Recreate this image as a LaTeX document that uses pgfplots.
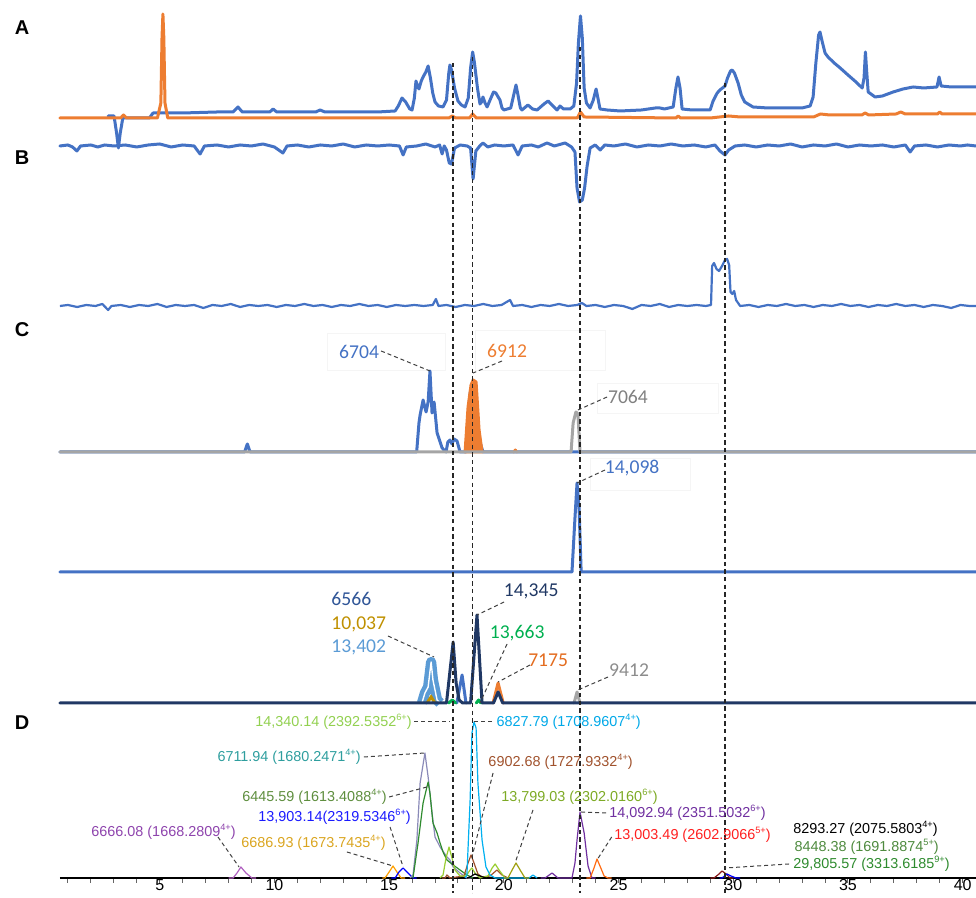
\documentclass[border=0pt]{standalone}
\usepackage{pgfplots}
\pgfplotsset{compat=1.18}
\usepackage{fontspec}
\setmainfont{Liberation Sans}
\newfontfamily\calibri{Carlito}
\definecolor{cblue}{HTML}{4472C4}
\definecolor{corange}{HTML}{ED7D31}
\definecolor{cgray}{HTML}{A5A5A5}
\definecolor{cnavy}{HTML}{203864}
\definecolor{clblue}{HTML}{5B9BD5}
\definecolor{cgold}{HTML}{BF9000}
\definecolor{cgreen}{HTML}{00B050}
\definecolor{cdblue}{HTML}{2F5597}
\definecolor{corange2}{HTML}{E36C1F}
\definecolor{dlav}{HTML}{8A8AB8}
\definecolor{dgreen}{HTML}{2E8B2E}
\definecolor{dlime}{HTML}{9ACD32}
\definecolor{dsky}{HTML}{00B0F0}
\definecolor{dbrown}{HTML}{A0522D}
\definecolor{dolive}{HTML}{A0A010}
\definecolor{dpurple}{HTML}{7030A0}
\definecolor{dorchid}{HTML}{B060C0}
\definecolor{dorange}{HTML}{FFA000}
\definecolor{dred}{HTML}{FF6A10}
\definecolor{ddarkred}{HTML}{8B1A1A}
\definecolor{tlime}{HTML}{92D050}
\definecolor{tsky}{HTML}{00A8E8}
\definecolor{tteal}{HTML}{2E9E9E}
\definecolor{tbrown}{HTML}{A0522D}
\definecolor{tgreen}{HTML}{5E8E3E}
\definecolor{tolive}{HTML}{7DAA25}
\definecolor{tblue}{HTML}{1A1AFF}
\definecolor{tpurple}{HTML}{7030A0}
\definecolor{tpurple2}{HTML}{8E44AD}
\definecolor{tgold}{HTML}{DAA520}
\definecolor{tred}{HTML}{FF2020}
\definecolor{tgreen2}{HTML}{4E8A3E}
\definecolor{tgreen3}{HTML}{2E8B2E}
\newcommand\sups[1]{\raisebox{0.45em}{\fontsize{4.6}{5}\selectfont #1}}
\pgfplotsset{
  tr/.style={line width=1.5pt, line join=round, line cap=round},
  dt/.style={line width=0.6pt, line join=round},
  ld/.style={dash pattern=on 2pt off 1.5pt, line width=0.5pt, black!75},
  vd/.style={dash pattern=on 2.2pt off 1.6pt, line width=0.6pt, black!85},
}
\begin{document}
\begin{tikzpicture}
\begin{axis}[
  scale only axis, width=458pt, height=439pt,
  xmin=0.654, xmax=40.58, ymin=0, ymax=878,
  axis y line=none, axis x line*=bottom,
  axis line style={black, line width=0.6pt},
  xtick={5,10,...,40}, minor xtick={1,...,40},
  tick align=outside, major tick length=2.5pt, minor tick length=2.5pt,
  tick style={black!60, line width=0.5pt},
  xticklabel style={font=\fontsize{8}{9}\selectfont, text=black, yshift=2.8pt, inner sep=1pt},
  /pgf/number format/assume math mode=true,
  clip=false,
]
% ---------------- Panel A ----------------
\addplot[tr, cblue] coordinates {(2.75,762)(3.01,762)(3.12,745)(3.2,730)(3.28,745)(3.40,761)(3.5,760)(4.55,760)(4.71,765)(6.0,765)(7.5,766)(8.2,766)(8.41,771)(8.6,766)(9.8,766)(9.94,769)(10.1,766)(11.8,766)(11.99,768)(12.2,766)(14.5,766)(15.26,767)(15.4,772)(15.56,780)(15.72,776)(15.9,769)(16.0,768)(16.1,780)(16.17,797)(16.24,792)(16.30,789)(16.40,797)(16.48,801)(16.6,806)(16.70,812)(16.8,800)(16.9,785)(17.0,776)(17.15,772)(17.35,771)(17.5,778)(17.6,805)(17.65,813)(17.72,808)(17.85,790)(18.0,777)(18.15,773)(18.31,771)(18.45,780)(18.55,810)(18.64,826)(18.72,815)(18.85,790)(18.96,774)(19.03,776)(19.09,781)(19.18,775)(19.27,771)(19.4,778)(19.55,786)(19.65,785)(19.83,778)(19.92,770)(20.0,768)(20.3,770)(20.45,785)(20.53,793)(20.6,785)(20.72,770)(20.79,768)(21.05,773)(21.25,769)(21.45,768)(21.75,774)(21.93,777)(22.1,773)(22.32,768)(22.45,772)(22.6,769)(22.89,769)(23.05,772)(23.17,795)(23.25,835)(23.34,862)(23.42,840)(23.5,790)(23.6,775)(23.76,770)(23.9,778)(24.02,789)(24.1,780)(24.19,769)(24.5,768)(25.07,767)(26.0,768)(26.6,770)(26.81,770)(27.0,769)(27.38,771)(27.5,790)(27.59,801)(27.68,790)(27.77,769)(28.2,768)(28.99,768)(29.12,777)(29.3,785)(29.42,788)(29.64,792)(29.75,800)(29.88,807)(29.95,808)(30.05,805)(30.21,795)(30.35,783)(30.5,776)(30.86,771)(31.5,770)(32.04,770)(33.0,770)(33.35,772)(33.48,781)(33.6,815)(33.72,843)(33.78,846)(33.88,836)(34.0,825)(34.13,821)(34.4,815)(34.66,810)(35.0,803)(35.3,797)(35.62,790)(35.70,800)(35.76,826)(35.82,805)(35.88,786)(36.18,781)(36.5,782)(36.97,786)(37.4,789)(37.84,791)(38.3,790)(38.88,791)(38.97,801)(39.06,792)(39.5,791)(40.58,791)};
\addplot[tr, corange] coordinates {(0.65,760)(3.3,760)(3.42,763)(3.55,760)(4.9,760)(5.05,775)(5.1,840)(5.14,864)(5.18,840)(5.23,775)(5.35,760)(17.6,760)(17.75,762)(17.9,760)(18.5,760)(18.64,764)(18.8,760)(23.2,760)(23.34,766)(23.5,761)(27.5,760)(27.6,762)(27.7,760)(29.0,760)(29.8,762)(30.3,761)(33.5,761)(33.8,764)(34.2,763)(35.6,763)(35.75,765)(35.9,763)(37.1,764)(37.3,766)(37.5,764)(38.9,764)(39.0,766)(39.1,764)(40.58,764)};
% ---------------- Panel B ----------------
\addplot[tr, cblue] coordinates {(0.65,732)(1.0,733)(1.2,731)(1.39,727)(1.55,732)(2.0,733)(2.3,731)(2.6,733)(3.0,732)(3.5,733)(4.0,731)(4.5,733)(5.0,734)(5.5,731)(6.0,733)(6.5,732)(6.76,724)(6.95,732)(7.5,733)(8.0,731)(8.5,733)(9.0,732)(9.5,734)(10.0,731)(10.37,725)(10.55,732)(11.0,733)(11.5,731)(12.0,733)(12.5,732)(13.0,734)(13.5,731)(14.0,733)(14.5,732)(15.0,733)(15.45,732)(15.61,723)(15.75,731)(16.2,732)(16.6,734)(17.0,731)(17.2,733)(17.31,724)(17.4,732)(17.5,728)(17.62,715)(17.72,714)(17.85,730)(18.1,733)(18.4,732)(18.55,730)(18.66,699)(18.78,727)(18.95,732)(19.09,735)(19.3,731)(19.6,733)(20.0,732)(20.4,733)(20.62,723)(20.8,732)(21.2,733)(21.5,731)(21.88,735)(22.2,732)(22.67,735)(22.95,731)(23.1,726)(23.19,690)(23.3,676)(23.42,678)(23.52,690)(23.63,712)(23.76,730)(23.98,733)(24.2,728)(24.4,733)(24.8,732)(25.3,734)(25.8,731)(26.3,733)(26.8,732)(27.3,734)(27.8,732)(28.3,733)(28.8,731)(29.2,733)(29.42,727)(29.64,723)(29.8,728)(30.08,732)(30.5,733)(31.0,731)(31.5,733)(32.0,732)(32.5,734)(33.0,731)(33.5,733)(34.0,732)(34.5,734)(35.0,731)(35.5,733)(36.0,732)(36.5,733)(37.0,731)(37.5,733)(37.71,726)(37.9,732)(38.4,733)(38.9,731)(39.4,733)(39.9,732)(40.2,733)(40.58,732)};
\addplot[line width=1.1pt, cblue, line join=round] coordinates {(0.65,572)(1.0,573)(1.4,571)(1.8,573)(2.2,572)(2.5,574)(2.75,568)(2.9,572)(3.3,573)(3.7,571)(4.1,573)(4.5,572)(4.9,574)(5.3,571)(5.7,573)(6.1,572)(6.5,573)(6.9,570)(7.3,573)(7.7,572)(8.1,574)(8.5,571)(8.9,573)(9.3,572)(9.7,573)(10.1,571)(10.5,573)(10.9,572)(11.3,574)(11.7,572)(12.1,573)(12.5,571)(12.9,573)(13.3,572)(13.7,574)(14.1,572)(14.5,573)(14.9,571)(15.3,573)(15.7,572)(16.1,573)(16.5,572)(16.9,573)(17.04,579)(17.15,572)(17.5,573)(17.9,571)(18.3,573)(18.7,572)(19.1,574)(19.5,572)(19.9,573)(20.27,578)(20.4,572)(20.8,573)(21.2,571)(21.6,573)(22.0,572)(22.4,574)(22.8,572)(23.2,573)(23.4,575)(23.6,572)(24.0,573)(24.4,571)(24.8,573)(25.2,572)(25.6,569)(26.0,573)(26.4,572)(26.8,574)(27.2,571)(27.6,573)(28.0,572)(28.4,573)(28.8,572)(29.03,573)(29.08,612)(29.16,615)(29.27,609)(29.38,607)(29.51,612)(29.64,618)(29.73,619)(29.82,613)(29.88,586)(29.96,584)(30.04,587)(30.12,578)(30.3,572)(30.7,573)(31.1,571)(31.5,573)(31.9,572)(32.3,574)(32.7,572)(33.1,573)(33.5,571)(33.9,573)(34.3,572)(34.7,574)(35.1,572)(35.5,573)(35.9,571)(36.3,573)(36.7,572)(37.1,574)(37.5,572)(37.9,573)(38.3,571)(38.7,573)(39.1,572)(39.5,570)(39.9,573)(40.3,572)(40.58,572)};
% ---------------- Panel C1 ----------------
\draw[black!4] (axis cs:12.29,508) rectangle (axis cs:17.44,545);
\draw[black!4] (axis cs:18.74,508) rectangle (axis cs:24.41,548);
\draw[black!4] (axis cs:24.06,465) rectangle (axis cs:29.34,495);
\draw[black!4] (axis cs:23.76,388) rectangle (axis cs:28.12,420);
\addplot[tr, cblue] coordinates {(0.65,426)(8.7,426)(8.82,434)(8.94,426)(16.2,426)(16.30,455)(16.35,463)(16.48,478)(16.61,466)(16.70,476)(16.78,507)(16.87,465)(16.96,476)(17.09,445)(17.31,430)(17.48,426)(17.56,436)(17.65,438)(17.74,434)(17.83,439)(17.96,437)(18.09,426)(18.35,426)(18.44,462)(18.53,485)(18.61,491)(18.74,468)(18.83,458)(18.96,436)(19.09,426)(40.58,426)};
\addplot[tr, corange, fill=corange] coordinates {(18.31,426)(18.44,471)(18.57,493)(18.66,498)(18.79,496)(18.92,448)(19.05,426)} -- cycle;
\addplot[tr, corange] coordinates {(20.45,426)(20.5,428)(20.55,426)};
\addplot[tr, cgray] coordinates {(0.65,426)(22.93,426)(23.02,455)(23.14,466)(23.23,464)(23.32,426)(40.58,426)};
% ---------------- Panel C2 ----------------
\addplot[tr, cblue] coordinates {(0.65,306)(22.97,306)(23.10,360)(23.19,395)(23.28,370)(23.37,306)(40.58,306)};
% ---------------- Panel C3 ----------------
\addplot[line width=2.2pt, clblue, double=white, double distance=0.7pt, line join=round] coordinates {(16.43,175)(16.56,185)(16.70,191)(16.83,216)(16.91,198)(17.09,178)(17.22,175)};
\addplot[line width=1.5pt, cgold] coordinates {(16.65,175)(16.83,181)(17.0,175)};
\addplot[tr, cblue] coordinates {(17.95,175)(18.18,203)(18.35,175)};
\addplot[tr, corange] coordinates {(19.53,175)(19.75,195)(19.97,175)};
\addplot[tr, cgreen] coordinates {(17.6,175)(17.75,178)(17.9,175)};
\addplot[tr, cgreen] coordinates {(18.8,175)(18.9,178)(19.0,175)};
\addplot[tr, cgray] coordinates {(23.06,175)(23.19,186)(23.32,175)};
\addplot[tr, cnavy] coordinates {(0.65,175)(17.50,175)(17.79,236)(17.92,195)(18.05,178)(18.2,175)(18.55,175)(18.83,263)(19.05,175)(19.55,175)(19.75,186)(19.95,175)(40.58,175)};
% ---------------- Panel D ----------------
\addplot[dt, dorchid] coordinates {(8.0,0)(8.2,0)(8.37,5)(8.54,11)(8.76,5)(9.02,0)(9.2,0)};
\addplot[dt, dorange] coordinates {(14.7,0)(14.82,0)(15.0,6)(15.17,12)(15.34,6)(15.52,0)(15.7,0)};
\addplot[dt, blue] coordinates {(15.1,0)(15.26,0)(15.43,6)(15.61,10)(15.82,5)(16.04,0)(16.2,0)};
\addplot[dt, dlav] coordinates {(15.91,0)(16.04,3)(16.21,38)(16.35,95)(16.56,125)(16.70,101)(16.87,65)(17.0,41)(17.22,31)(17.52,21)(17.65,18)(17.79,11)(18.09,5)(18.39,0)(18.6,0)};
\addplot[dt, dgreen] coordinates {(16.04,0)(16.26,35)(16.48,75)(16.70,96)(16.78,85)(16.91,55)(17.09,45)(17.22,35)(17.35,26)(17.52,18)(17.79,13)(18.09,8)(18.39,3)(18.66,0)};
\addplot[dt, dbrown] coordinates {(17.3,0)(17.44,0)(17.52,3)(17.65,0)(18.26,2)(18.44,15)(18.57,23)(18.70,15)(18.87,4)(19.05,1)(19.40,2)(19.70,8)(19.92,3)(20.18,0)};
\addplot[dt, dlime] coordinates {(17.22,0)(17.35,3)(17.48,20)(17.61,31)(17.74,20)(17.87,8)(18.09,2)(18.35,2)(18.53,8)(18.61,10)(18.74,5)(18.96,0)(19.31,2)(19.49,10)(19.62,14)(19.79,8)(20.05,0)};
\addplot[dt, dsky] coordinates {(18.31,0)(18.39,3)(18.53,78)(18.61,145)(18.70,156)(18.79,150)(18.87,95)(19.05,38)(19.22,11)(19.40,3)(19.62,0)(21.1,0)(21.27,3)(21.45,0)};
\addplot[dt, black] coordinates {(18.4,0)(18.53,1)(18.74,4)(18.96,2)(19.22,0)};
\addplot[dt, dolive] coordinates {(20.0,0)(20.18,0)(20.36,8)(20.53,15)(20.71,8)(20.92,0)(21.1,0)};
\addplot[dt, dpurple] coordinates {(21.6,0)(21.8,0)(22.1,5)(22.36,0)(22.97,0)(23.10,15)(23.19,38)(23.32,66)(23.50,45)(23.67,12)(23.84,0)(24.0,0)};
\addplot[dt, dred] coordinates {(23.6,0)(23.76,0)(23.93,10)(24.06,19)(24.19,12)(24.37,2)(24.54,0)(24.7,0)};
\addplot[dt, ddarkred] coordinates {(29.0,0)(29.16,0)(29.38,4)(29.51,7)(29.69,4)(29.86,0)(30.0,0)};
\addplot[dt, blue] coordinates {(29.4,0)(29.51,0)(29.73,4)(29.90,2)(30.12,0)(30.3,0)};
% ---------------- vertical dashed lines ----------------
\addplot[vd] coordinates {(17.78,815)(17.78,-15)};
\addplot[vd] coordinates {(18.64,821)(18.64,-15)};
\addplot[vd] coordinates {(23.32,831)(23.32,-15)};
\addplot[vd] coordinates {(29.64,795)(29.64,-15)};
% ---------------- leaders C ----------------
\addplot[ld] coordinates {(14.65,527)(16.78,507)};
\addplot[ld] coordinates {(19.92,517)(18.66,505)};
\addplot[ld] coordinates {(24.5,481)(23.23,468)};
\addplot[ld] coordinates {(24.41,408)(23.19,395)};
\addplot[ld] coordinates {(14.95,242)(16.96,221)};
\addplot[ld] coordinates {(20.01,276)(18.83,263)};
\addplot[ld] coordinates {(20.14,234)(18.96,175)};
\addplot[ld] coordinates {(21.14,213)(19.75,196)};
\addplot[ld] coordinates {(24.54,201)(23.23,188)};
% ---------------- leaders D ----------------
\addplot[ld] coordinates {(16.1,156)(17.65,156)};
\addplot[ld] coordinates {(18.7,156)(19.55,156)};
\addplot[ld] coordinates {(13.9,121)(16.56,125)};
\addplot[ld] coordinates {(19.53,105)(18.61,21)};
\addplot[ld] coordinates {(15.0,81)(16.65,91)};
\addplot[ld] coordinates {(21.27,68)(20.49,15)};
\addplot[ld] coordinates {(15.04,51)(15.61,11)};
\addplot[ld] coordinates {(23.37,66)(24.48,65)};
\addplot[ld] coordinates {(7.54,41)(8.46,11)};
\addplot[ld] coordinates {(13.16,26)(15.17,12)};
\addplot[ld] coordinates {(24.7,41)(24.06,18)};
\addplot[ld] coordinates {(32.43,14)(29.64,10)};
% ---------------- panel letters ----------------
\node[font=\bfseries\fontsize{10}{11}\selectfont] at (axis cs:-1.0,850) {A};
\node[font=\bfseries\fontsize{10}{11}\selectfont] at (axis cs:-1.0,720) {B};
\node[font=\bfseries\fontsize{10}{11}\selectfont] at (axis cs:-1.0,548) {C};
\node[font=\bfseries\fontsize{10}{11}\selectfont] at (axis cs:-1.0,155) {D};
% ---------------- C labels ----------------
\node[text=cblue, font=\calibri\fontsize{9.8}{10}\selectfont] at (axis cs:13.69,526) {6704};
\node[text=corange, font=\calibri\fontsize{9.8}{10}\selectfont] at (axis cs:20.14,527) {6912};
\node[text=black!50, font=\calibri\fontsize{9.8}{10}\selectfont] at (axis cs:25.41,481) {7064};
\node[text=cblue, font=\calibri\fontsize{9.8}{10}\selectfont] at (axis cs:25.59,410) {14,098};
\node[anchor=west, inner sep=0pt, text=cdblue, font=\calibri\fontsize{9.8}{10}\selectfont] at (axis cs:12.47,279) {6566};
\node[anchor=west, inner sep=0pt, text=cgold, font=\calibri\fontsize{9.8}{10}\selectfont] at (axis cs:12.47,254) {10,037};
\node[anchor=west, inner sep=0pt, text=clblue, font=\calibri\fontsize{9.8}{10}\selectfont] at (axis cs:12.47,231) {13,402};
\node[text=cnavy, font=\calibri\fontsize{9.8}{10}\selectfont] at (axis cs:21.19,287) {14,345};
\node[text=cgreen, font=\calibri\fontsize{9.8}{10}\selectfont] at (axis cs:20.58,245) {13,663};
\node[text=corange2, font=\calibri\fontsize{9.8}{10}\selectfont] at (axis cs:21.93,218) {7175};
\node[text=black!45, font=\calibri\fontsize{9.8}{10}\selectfont] at (axis cs:25.46,208) {9412};
% ---------------- D labels ----------------
\node[inner sep=0.5pt, font=\fontsize{7.2}{8}\selectfont, anchor=east, text=tlime] at (axis cs:16.04,156) {14,340.14 (2392.5352\sups{6+})};
\node[inner sep=0.5pt, font=\fontsize{7.2}{8}\selectfont, anchor=west, text=tsky] at (axis cs:19.62,156) {6827.79 (1708.9607\sups{4+})};
\node[inner sep=0.5pt, font=\fontsize{7.2}{8}\selectfont, anchor=east, text=tteal] at (axis cs:13.82,121) {6711.94 (1680.2471\sups{4+})};
\node[inner sep=0.5pt, font=\fontsize{7.2}{8}\selectfont, anchor=west, text=tbrown] at (axis cs:19.27,116) {6902.68 (1727.9332\sups{4+})};
\node[inner sep=0.5pt, font=\fontsize{7.2}{8}\selectfont, anchor=east, text=tgreen] at (axis cs:14.95,81) {6445.59 (1613.4088\sups{4+})};
\node[inner sep=0.5pt, font=\fontsize{7.2}{8}\selectfont, anchor=west, text=tolive] at (axis cs:19.83,81) {13,799.03 (2302.0160\sups{6+})};
\node[inner sep=0.5pt, font=\fontsize{7.2}{8}\selectfont, anchor=east, text=tblue] at (axis cs:16.0,61) {13,903.14(2319.5346\sups{6+})};
\node[inner sep=0.5pt, font=\fontsize{7.2}{8}\selectfont, anchor=west, text=tpurple] at (axis cs:24.54,65) {14,092.94 (2351.5032\sups{6+})};
\node[inner sep=0.5pt, font=\fontsize{7.2}{8}\selectfont, anchor=east, text=tpurple2] at (axis cs:8.37,46) {6666.08 (1668.2809\sups{4+})};
\node[inner sep=0.5pt, font=\fontsize{7.2}{8}\selectfont, anchor=east, text=tgold] at (axis cs:14.91,35) {6686.93 (1673.7435\sups{4+})};
\node[inner sep=0.5pt, font=\fontsize{7.2}{8}\selectfont, anchor=west, text=tred] at (axis cs:24.76,43) {13,003.49 (2602.9066\sups{5+})};
\node[inner sep=0.5pt, font=\fontsize{7.2}{8}\selectfont, anchor=west, text=black] at (axis cs:32.56,49) {8293.27 (2075.5803\sups{4+})};
\node[inner sep=0.5pt, font=\fontsize{7.2}{8}\selectfont, anchor=west, text=tgreen2] at (axis cs:32.61,31) {8448.38 (1691.8874\sups{5+})};
\node[inner sep=0.5pt, font=\fontsize{7.2}{8}\selectfont, anchor=west, text=tgreen3] at (axis cs:32.56,14) {29,805.57 (3313.6185\sups{9+})};
\end{axis}
\pgfresetboundingbox
\path (-30pt,-10pt) rectangle (458pt,439pt);
\end{tikzpicture}
\end{document}
